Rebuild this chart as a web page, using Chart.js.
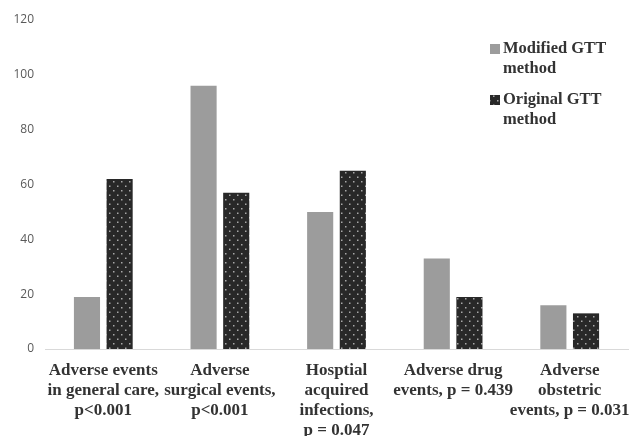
<!DOCTYPE html>
<html>
<head>
<meta charset="utf-8">
<script src="https://cdn.jsdelivr.net/npm/chart.js@4.4.1/dist/chart.umd.min.js"></script>
<style>
  html, body { margin: 0; padding: 0; background: #ffffff; }
  #wrap { width: 632px; height: 436px; }
</style>
</head>
<body>
<div id="wrap"><canvas id="chart" width="632" height="436"></canvas></div>
<script>
// Category labels (multi-line) and values for each GTT method
const categories = [
  ["Adverse events", "in general care,", "p<0.001"],
  ["Adverse", "surgical events,", "p<0.001"],
  ["Hosptial", "acquired", "infections,", "p = 0.047"],
  ["Adverse drug", "events, p = 0.439"],
  ["Adverse", "obstetric", "events, p = 0.031"]
];
const modifiedGTT = [19, 96, 50, 33, 16];
const originalGTT = [62, 57, 65, 19, 13];
const seriesNames = [["Modified GTT", "method"], ["Original GTT", "method"]];
const yTicks = [0, 20, 40, 60, 80, 100, 120];

const SERIF = "'Liberation Serif', 'Times New Roman', serif";
const TEXT = '#333333';
const LIGHT = '#9c9c9c';
const DARK = '#282828';

// Dark fill with a staggered grid of small light dots
function dottedPattern() {
  const c = document.createElement('canvas');
  c.width = 8; c.height = 9;
  const g = c.getContext('2d');
  g.fillStyle = DARK;
  g.fillRect(0, 0, 8, 9);
  g.fillStyle = '#a8a8a8';
  g.fillRect(1, 1, 1.5, 1.5);
  g.fillRect(5, 5.5, 1.5, 1.5);
  return g.createPattern(c, 'repeat');
}
const dots = dottedPattern();

// Legend drawn inside the plot area, top right, with wrapped text
const sideLegend = {
  id: 'sideLegend',
  afterDraw(chart) {
    const ctx = chart.ctx;
    const fills = [LIGHT, dots];
    const x = 490, y0 = [49, 100], lh = 19.5;
    ctx.save();
    ctx.font = "bold 16.5px " + SERIF;
    ctx.textBaseline = 'middle';
    ctx.textAlign = 'left';
    seriesNames.forEach((lines, i) => {
      ctx.fillStyle = fills[i];
      ctx.fillRect(x, y0[i] - 5, 10, 10);
      ctx.fillStyle = TEXT;
      lines.forEach((t, j) => ctx.fillText(t, x + 13, y0[i] + j * lh));
    });
    ctx.restore();
  }
};

new Chart(document.getElementById('chart'), {
  type: 'bar',
  data: {
    labels: categories,
    datasets: [
      { label: seriesNames[0].join(' '), data: modifiedGTT, backgroundColor: LIGHT,
        categoryPercentage: 0.56, barPercentage: 0.8 },
      { label: seriesNames[1].join(' '), data: originalGTT, backgroundColor: dots,
        categoryPercentage: 0.56, barPercentage: 0.8 }
    ]
  },
  options: {
    responsive: false,
    animation: false,
    layout: { padding: { top: 20, right: 4, left: 0, bottom: 0 } },
    plugins: { legend: { display: false }, tooltip: { enabled: false } },
    scales: {
      x: {
        grid: { display: false, drawTicks: false },
        border: { display: true, color: '#d9d9d9', width: 1 },
        ticks: {
          autoSkip: false, maxRotation: 0, minRotation: 0, padding: 12,
          color: TEXT,
          font: { family: SERIF, size: 17, weight: 'bold', lineHeight: 1.17 }
        },
        afterFit(s) {
          s.height = 87;
          // let the outer labels overhang the plot edges
          s.paddingLeft = 0;
          s.paddingRight = 0;
        }
      },
      y: {
        min: 0, max: 120,
        grid: { display: false, drawTicks: false },
        border: { display: false },
        afterBuildTicks(s) { s.ticks = yTicks.map(v => ({ value: v })); },
        ticks: {
          padding: 11, color: '#595959',
          font: { family: "'Open Sans', 'Liberation Sans', sans-serif", size: 12 }
        },
        afterFit(s) { s.width = 45; }
      }
    }
  },
  plugins: [sideLegend]
});
</script>
</body>
</html>
